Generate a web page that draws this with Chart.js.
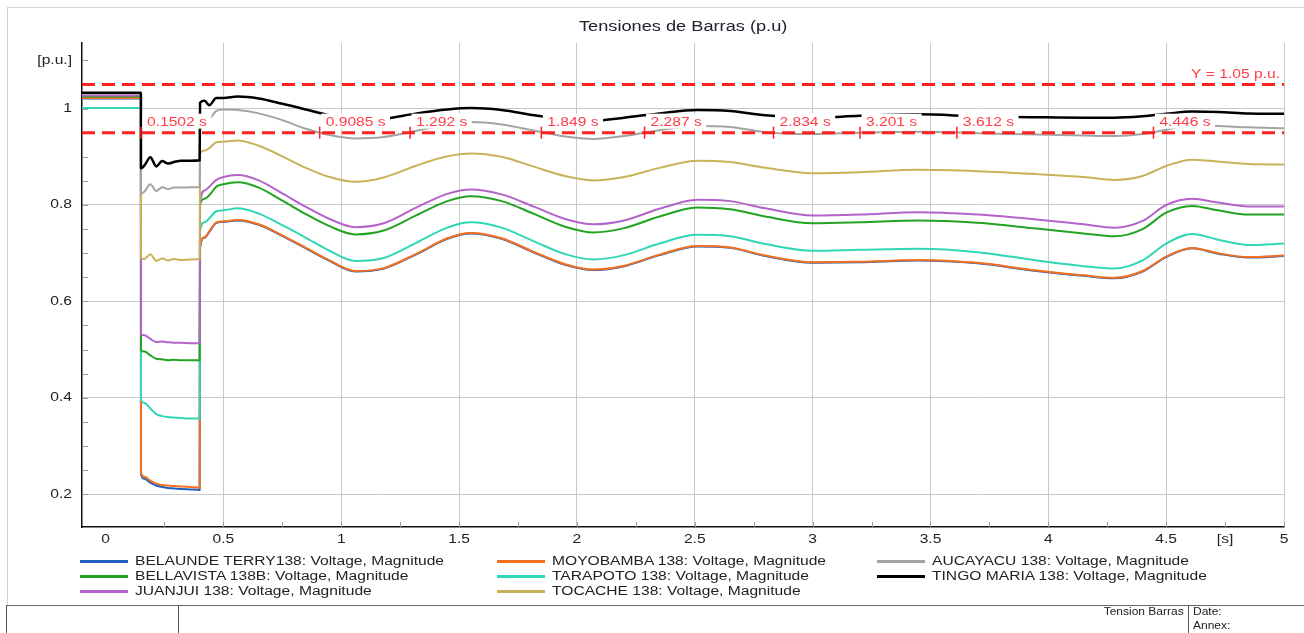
<!DOCTYPE html>
<html lang="es">
<head>
    <meta charset="UTF-8">
    <title>Tensiones de Barras (p.u)</title>
    <script src="https://cdn.jsdelivr.net/npm/chart.js"></script>
    <style>
        * {
            margin: 0;
            padding: 0;
            box-sizing: border-box;
        }
        body {
            width: 1304px;
            height: 633px;
            overflow: hidden;
            background: #fff;
            font-family: "Liberation Sans", Arial, sans-serif;
        }
        #page {
            position: relative;
            width: 1304px;
            height: 633px;
        }
        #chart-box {
            position: absolute;
            left: 0;
            top: 0;
            width: 1304px;
            height: 633px;
        }
        .frame {
            position: absolute;
            left: 7px;
            top: 7px;
            right: 0;
            height: 598px;
            border-top: 1px solid #d2d2d2;
            border-left: 1px solid #d2d2d2;
        }
        .title {
            position: absolute;
            left: 82px;
            width: 1202px;
            top: 18px;
            line-height: 16px;
            font-size: 14px;
            color: #202030;
            text-align: center;
        }
        .title span {
            display: inline-block;
            transform: scaleX(1.3);
        }
        #legend {
            position: absolute;
            left: 80px;
            top: 554px;
            display: grid;
            grid-template-columns: 417px 380px 380px;
            grid-auto-rows: 15px;
        }
        .item {
            display: flex;
            align-items: center;
            height: 15px;
            white-space: nowrap;
        }
        .item i {
            display: inline-block;
            width: 48px;
            height: 2.5px;
            margin-right: 7px;
        }
        .item span {
            display: inline-block;
            font-size: 12px;
            line-height: 15px;
            color: #222;
            transform: scaleX(1.3);
            transform-origin: left center;
        }
        .block {
            position: absolute;
            left: 6px;
            top: 605px;
            right: 0;
            bottom: 0;
            border-top: 1.5px solid #666;
            border-left: 1px solid #555;
        }
        .vline {
            position: absolute;
            top: 605px;
            bottom: 0;
            width: 1px;
            background: #555;
        }
        .small {
            position: absolute;
            font-size: 10px;
            line-height: 12px;
            color: #222;
            white-space: nowrap;
        }
        .small.r { transform: scaleX(1.2); transform-origin: right center; }
        .small.l { transform: scaleX(1.2); transform-origin: left center; }
    </style>
</head>
<body>
<div id="page">
    <div class="frame"></div>
    <div id="chart-box"><canvas id="myChart"></canvas></div>
    <div class="title"><span>Tensiones de Barras (p.u)</span></div>
    <div id="legend"></div>
    <div class="block"></div>
    <div class="vline" style="left:178px"></div>
    <div class="vline" style="left:1188px"></div>
    <div class="small r" style="right:120px; top:606px;">Tension Barras</div>
    <div class="small l" style="left:1193px; top:606px;">Date:</div>
    <div class="small l" style="left:1193px; top:620px;">Annex:</div>
</div>
<script>
    // tiempo [s]
    var T = [-0.1, 0.15, 0.1502, 0.165, 0.19, 0.215, 0.24, 0.265, 0.29, 0.32, 0.36, 0.399,
        0.401, 0.42, 0.44, 0.47, 0.50, 0.56, 0.65, 0.75, 0.85, 0.95, 1.06, 1.18, 1.32, 1.45,
        1.55, 1.68, 1.82, 1.95, 2.07, 2.2, 2.35, 2.51, 2.65, 2.8, 3.0, 3.2, 3.45, 3.7, 3.95,
        4.15, 4.28, 4.4, 4.5, 4.61, 4.72, 4.85, 5.0];

    var belaunde = [1.021, 1.021,
        0.242, 0.232, 0.224, 0.218, 0.215, 0.213, 0.212, 0.211, 0.210, 0.209,
        0.712, 0.732, 0.744, 0.763, 0.765, 0.768, 0.759, 0.736, 0.710, 0.684,
        0.662, 0.668, 0.698, 0.730, 0.741, 0.730, 0.701, 0.676, 0.665, 0.673,
        0.696, 0.714, 0.711, 0.694, 0.680, 0.681, 0.685, 0.679, 0.663, 0.653,
        0.648, 0.662, 0.692, 0.710, 0.699, 0.691, 0.694];
    var moyobamba = [1.022, 1.022,
        0.244, 0.236, 0.228, 0.222, 0.219, 0.218, 0.217, 0.216, 0.215, 0.214,
        0.713, 0.733, 0.745, 0.764, 0.766, 0.769, 0.760, 0.737, 0.711, 0.685,
        0.663, 0.669, 0.699, 0.731, 0.742, 0.731, 0.702, 0.677, 0.666, 0.674,
        0.697, 0.715, 0.712, 0.695, 0.681, 0.682, 0.686, 0.680, 0.664, 0.654,
        0.649, 0.663, 0.693, 0.711, 0.700, 0.692, 0.695];
    var aucayacu = [1.031, 1.031,
        0.823, 0.828, 0.843, 0.829, 0.837, 0.833, 0.836, 0.836, 0.837, 0.837,
        0.955, 0.970, 0.978, 0.995, 0.998, 0.997, 0.990, 0.976, 0.958, 0.945,
        0.938, 0.941, 0.954, 0.967, 0.972, 0.967, 0.954, 0.942, 0.937, 0.943,
        0.955, 0.964, 0.962, 0.951, 0.947, 0.950, 0.952, 0.949, 0.946, 0.944,
        0.943, 0.947, 0.956, 0.965, 0.964, 0.961, 0.959];
    var bellavista = [1.025, 1.025,
        0.498, 0.496, 0.488, 0.481, 0.480, 0.478, 0.479, 0.478, 0.478, 0.478,
        0.801, 0.813, 0.820, 0.838, 0.843, 0.847, 0.836, 0.809, 0.781, 0.756,
        0.739, 0.747, 0.779, 0.808, 0.818, 0.808, 0.781, 0.755, 0.743, 0.752,
        0.776, 0.795, 0.791, 0.776, 0.762, 0.764, 0.768, 0.763, 0.751, 0.741,
        0.735, 0.750, 0.784, 0.798, 0.789, 0.780, 0.780];
    var tarapoto = [1.001, 1.001,
        0.396, 0.389, 0.378, 0.366, 0.362, 0.360, 0.359, 0.358, 0.357, 0.357,
        0.747, 0.764, 0.772, 0.787, 0.789, 0.793, 0.782, 0.758, 0.732, 0.705,
        0.684, 0.690, 0.722, 0.753, 0.764, 0.753, 0.724, 0.698, 0.687, 0.696,
        0.720, 0.738, 0.735, 0.719, 0.705, 0.707, 0.709, 0.702, 0.685, 0.673,
        0.668, 0.685, 0.720, 0.740, 0.728, 0.717, 0.720];
    var tingoMaria = [1.033, 1.033,
        0.876, 0.882, 0.899, 0.880, 0.891, 0.886, 0.889, 0.892, 0.892, 0.893,
        1.012, 1.016, 1.007, 1.022, 1.022, 1.025, 1.021, 1.010, 0.998, 0.986,
        0.977, 0.979, 0.990, 0.998, 1.001, 0.997, 0.986, 0.978, 0.975, 0.981,
        0.990, 0.997, 0.995, 0.986, 0.981, 0.985, 0.988, 0.984, 0.982, 0.981,
        0.981, 0.984, 0.989, 0.994, 0.993, 0.990, 0.989];
    var juanjui = [1.027, 1.027,
        0.532, 0.530, 0.522, 0.516, 0.517, 0.515, 0.514, 0.514, 0.513, 0.513,
        0.805, 0.830, 0.838, 0.852, 0.858, 0.862, 0.851, 0.824, 0.796, 0.771,
        0.754, 0.762, 0.795, 0.823, 0.832, 0.822, 0.796, 0.771, 0.760, 0.768,
        0.792, 0.811, 0.808, 0.793, 0.778, 0.780, 0.785, 0.780, 0.770, 0.760,
        0.753, 0.767, 0.800, 0.813, 0.805, 0.797, 0.797];
    var tocache = [1.032, 1.032,
        0.690, 0.688, 0.698, 0.684, 0.689, 0.685, 0.688, 0.686, 0.687, 0.688,
        0.907, 0.913, 0.918, 0.930, 0.931, 0.934, 0.923, 0.901, 0.877, 0.858,
        0.848, 0.857, 0.882, 0.901, 0.907, 0.900, 0.879, 0.860, 0.851, 0.858,
        0.877, 0.892, 0.889, 0.877, 0.866, 0.868, 0.873, 0.870, 0.864, 0.858,
        0.852, 0.860, 0.881, 0.894, 0.890, 0.885, 0.884];

    // orden de la leyenda (3 columnas)
    var seriesNames = ['BELAUNDE TERRY138: Voltage, Magnitude', 'MOYOBAMBA 138: Voltage, Magnitude',
        'AUCAYACU 138: Voltage, Magnitude', 'BELLAVISTA 138B: Voltage, Magnitude',
        'TARAPOTO 138: Voltage, Magnitude', 'TINGO MARIA 138: Voltage, Magnitude',
        'JUANJUI 138: Voltage, Magnitude', 'TOCACHE 138: Voltage, Magnitude'];
    var seriesValues = [belaunde, moyobamba, aucayacu, bellavista, tarapoto, tingoMaria, juanjui, tocache];
    var seriesColors = ['#1f5fbf', '#f47020', '#a3a3a3', '#22a322', '#30d6b6', '#000000', '#b363c9', '#c8b25a'];
    var drawOrder = [8, 7, 2, 5, 6, 1, 4, 3];

    // limites y marcadores de cruce
    var limitHigh = 1.05;
    var limitLow = 0.95;
    var limitLabel = 'Y = 1.05 p.u.';
    var markerTimes = [0.1502, 0.9085, 1.292, 1.849, 2.287, 2.834, 3.201, 3.612, 4.446];
    var markerLabels = ['0.1502 s', '0.9085 s', '1.292 s', '1.849 s', '2.287 s', '2.834 s', '3.201 s', '3.612 s', '4.446 s'];

    // etiquetas de ejes
    var xTickValues = [0, 0.5, 1, 1.5, 2, 2.5, 3, 3.5, 4, 4.5, 4.75, 5];
    var xTickLabels = ['0', '0.5', '1', '1.5', '2', '2.5', '3', '3.5', '4', '4.5', '[s]', '5'];
    var yTickValues = [0.2, 0.4, 0.6, 0.8, 1, 1.1];
    var yTickLabels = ['0.2', '0.4', '0.6', '0.8', '1', '[p.u.]'];

    var STRETCH = 1.3;
    var FONT = '12px "Liberation Sans", Arial, sans-serif';

    function onStep(v, step) {
        var r = v / step;
        return Math.abs(r - Math.round(r)) < 1e-6;
    }

    function drawStretched(ctx, text, x, y, align, color) {
        ctx.save();
        ctx.translate(x, y);
        ctx.scale(STRETCH, 1);
        ctx.textAlign = align;
        ctx.textBaseline = 'middle';
        ctx.fillStyle = color;
        ctx.fillText(text, 0, 0);
        ctx.restore();
    }

    // ticks hacia dentro y etiquetas de ejes
    var axisPlugin = {
        id: 'axisText',
        beforeDatasetsDraw: function(chart) {
            var ctx = chart.ctx, area = chart.chartArea;
            var x = chart.scales.x, y = chart.scales.y;
            ctx.save();
            ctx.strokeStyle = '#9a9a9a';
            ctx.lineWidth = 1;
            ctx.beginPath();
            x.ticks.forEach(function(t) {
                if (!onStep(t.value, 0.25)) return;
                var px = Math.round(x.getPixelForValue(t.value)) + 0.5;
                ctx.moveTo(px, area.bottom);
                ctx.lineTo(px, area.bottom - 5);
            });
            y.ticks.forEach(function(t) {
                if (!onStep(t.value, 0.05)) return;
                var py = Math.round(y.getPixelForValue(t.value)) + 0.5;
                ctx.moveTo(area.left, py);
                ctx.lineTo(area.left + 6, py);
            });
            ctx.stroke();
            ctx.restore();
        },
        afterDraw: function(chart) {
            var ctx = chart.ctx, area = chart.chartArea;
            var x = chart.scales.x, y = chart.scales.y;
            ctx.save();
            ctx.font = FONT;
            for (var i = 0; i < xTickValues.length; i++) {
                drawStretched(ctx, xTickLabels[i], x.getPixelForValue(xTickValues[i]), area.bottom + 13, 'center', '#222');
            }
            for (var j = 0; j < yTickValues.length; j++) {
                drawStretched(ctx, yTickLabels[j], area.left - 10, y.getPixelForValue(yTickValues[j]), 'right', '#222');
            }
            ctx.restore();
        }
    };

    // marcadores rojos sobre la linea de 0.95
    var markerPlugin = {
        id: 'markers',
        afterDatasetsDraw: function(chart) {
            var ctx = chart.ctx;
            var x = chart.scales.x, y = chart.scales.y;
            var yLine = y.getPixelForValue(limitLow);
            ctx.save();
            ctx.font = FONT;
            for (var i = 0; i < markerTimes.length; i++) {
                var px = x.getPixelForValue(markerTimes[i]);
                var w = ctx.measureText(markerLabels[i]).width * STRETCH;
                ctx.fillStyle = '#fff';
                ctx.fillRect(px + 1.5, yLine - 19, w + 9, 15);
                ctx.strokeStyle = '#ff2020';
                ctx.lineWidth = 1.5;
                ctx.beginPath();
                ctx.moveTo(px, yLine - 6);
                ctx.lineTo(px, yLine + 6);
                ctx.stroke();
                drawStretched(ctx, markerLabels[i], px + 6, yLine - 10, 'left', '#ff3b47');
            }
            var yTop = y.getPixelForValue(limitHigh);
            drawStretched(ctx, limitLabel, x.right - 4, yTop - 10, 'right', '#ff3b47');
            ctx.restore();
        }
    };

    var datasets = [];
    for (var i = 0; i < seriesNames.length; i++) {
        datasets.push({
            label: seriesNames[i],
            data: T.map(function(t, k) { return { x: t, y: seriesValues[i][k] }; }),
            borderColor: seriesColors[i],
            backgroundColor: seriesColors[i],
            borderWidth: seriesNames[i].indexOf('TINGO') === 0 ? 2.5 : 2,
            pointRadius: 0,
            fill: false,
            cubicInterpolationMode: 'monotone',
            order: drawOrder[i]
        });
    }
    [limitHigh, limitLow].forEach(function(v) {
        datasets.push({
            label: 'Y = ' + v,
            data: [{ x: -0.1, y: v }, { x: 5, y: v }],
            borderColor: '#ff2020',
            borderWidth: 3,
            borderDash: [13, 7],
            pointRadius: 0,
            fill: false,
            order: -1
        });
    });

    var ctx = document.getElementById('myChart').getContext('2d');
    var myChart = new Chart(ctx, {
        type: 'line',
        data: { datasets: datasets },
        options: {
            responsive: true,
            maintainAspectRatio: false,
            devicePixelRatio: 1,
            animation: false,
            layout: { padding: { left: 82, top: 43, right: 20, bottom: 106 } },
            scales: {
                x: {
                    type: 'linear',
                    min: -0.1,
                    max: 5,
                    ticks: { display: false, stepSize: 0.25, autoSkip: false },
                    grid: {
                        drawTicks: false,
                        lineWidth: 1,
                        color: function(c) { return c.tick && onStep(c.tick.value, 0.5) ? '#c9c9c9' : 'rgba(0,0,0,0)'; }
                    },
                    border: { display: true, color: '#111', width: 1.5 }
                },
                y: {
                    min: 0.132,
                    max: 1.136,
                    ticks: { display: false, stepSize: 0.05, autoSkip: false },
                    grid: {
                        drawTicks: false,
                        lineWidth: 1,
                        color: function(c) { return c.tick && onStep(c.tick.value, 0.2) ? '#c9c9c9' : 'rgba(0,0,0,0)'; }
                    },
                    border: { display: true, color: '#111', width: 1.5 }
                }
            },
            plugins: {
                legend: { display: false },
                tooltip: { enabled: false }
            }
        },
        plugins: [axisPlugin, markerPlugin]
    });

    // leyenda en 3 columnas
    var legend = document.getElementById('legend');
    seriesNames.forEach(function(name, i) {
        var item = document.createElement('div');
        item.className = 'item';
        item.innerHTML = '<i style="background:' + seriesColors[i] + '"></i><span>' + name + '</span>';
        legend.appendChild(item);
    });
</script>
</body>
</html>
